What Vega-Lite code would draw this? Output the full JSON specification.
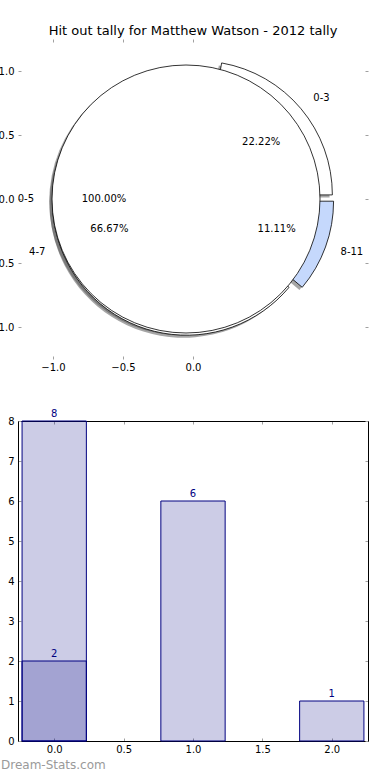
{
  "$schema": "https://vega.github.io/schema/vega-lite/v6.json",
  "bounds": "flush",
  "spacing": 62,
  "padding": {"left": -11, "top": 24, "right": 0, "bottom": 0},
  "background": "white",
  "config": {
    "font": "DejaVu Sans",
    "view": {"stroke": null},
    "axis": {
      "grid": false, "title": null, "labelFont": "DejaVu Sans", "labelFontSize": 10,
      "labelColor": "#000000", "tickColor": "#a0a0a0", "tickSize": -3, "tickWidth": 1,
      "domain": false, "domainColor": "#000000", "domainWidth": 1, "labelPadding": 7
    }
  },
  "datasets": {
    "pie1": [
      {"label": "0-5", "count": 9, "share": 1.0, "cx": -0.05, "cy": 0, "i": 1}
    ],
    "pie2": [
      {"label": "0-3", "count": 2, "share": 0.22222, "cx": 0.0383, "cy": 0.0321, "i": 1},
      {"label": "4-7", "count": 6, "share": 0.66667, "cx": -0.047, "cy": -0.0171, "i": 2},
      {"label": "8-11", "count": 1, "share": 0.11111, "cx": 0.047, "cy": -0.0171, "i": 3}
    ],
    "bars": [
      {"slot": 0, "hitouts": 8, "series": "a"},
      {"slot": 1, "hitouts": 6, "series": "a"},
      {"slot": 2, "hitouts": 1, "series": "a"},
      {"slot": 0, "hitouts": 2, "series": "b"}
    ]
  },
  "vconcat": [
    {
      "width": 350,
      "height": 320,
      "title": {"text": "Hit out tally for Matthew Watson - 2012 tally", "fontSize": 13, "fontWeight": "normal", "color": "#000000", "offset": 1},
      "layer": [
        {
          "encoding": {
            "x": {"field": "cx", "type": "quantitative", "scale": {"domain": [-1.25, 1.25], "nice": false, "zero": false},
                  "axis": {"orient": "bottom", "values": [-1, -0.5, 0], "format": ".1f", "labelPadding": 6}},
            "y": {"field": "cy", "type": "quantitative", "scale": {"domain": [-1.25, 1.25], "nice": false, "zero": false},
                  "axis": {"orient": "left", "values": [-1, -0.5, 0, 0.5, 1], "format": ".1f"}},
            "theta": {"field": "count", "type": "quantitative", "stack": true, "scale": {"range": [1.5707963267948966, -4.71238898038469]}},
            "order": {"field": "i", "type": "quantitative"},
            "detail": {"field": "label", "type": "nominal"}
          },
          "layer": [
            {"data": {"name": "pie2"}, "mark": {"type": "arc", "radius": 134, "fill": "#4d4d4d", "fillOpacity": 0.5, "xOffset": -2.8, "yOffset": 2.6}},
            {"data": {"name": "pie1"}, "mark": {"type": "arc", "radius": 134, "fill": "#4d4d4d", "fillOpacity": 0.5, "xOffset": -2.8, "yOffset": 2.6}},
            {"data": {"name": "pie2"}, "mark": {"type": "arc", "radius": 134, "stroke": "#000000", "strokeWidth": 0.8},
             "encoding": {"fill": {"field": "label", "type": "nominal", "scale": {"domain": ["0-3", "4-7", "8-11"], "range": ["#ffffff", "#ffffff", "#c5d8fc"]}, "legend": null}}},
            {"data": {"name": "pie1"}, "mark": {"type": "arc", "radius": 134, "fill": "#ffffff", "stroke": "#000000", "strokeWidth": 0.8}},
            {"data": {"name": "pie2"}, "mark": {"type": "text", "radius": 82, "fontSize": 10, "color": "#000000", "align": "center", "baseline": "middle"},
             "encoding": {"text": {"field": "share", "type": "quantitative", "format": ".2%"}}},
            {"data": {"name": "pie1"}, "mark": {"type": "text", "radius": 82, "fontSize": 10, "color": "#000000", "align": "center", "baseline": "middle"},
             "encoding": {"text": {"field": "share", "type": "quantitative", "format": ".2%"}}},
            {"data": {"name": "pie2"}, "mark": {"type": "text", "radius": 150, "fontSize": 10, "color": "#000000", "align": "left", "baseline": "middle"},
             "encoding": {"text": {"condition": {"test": "datum.label !== '4-7'", "field": "label", "type": "nominal"}, "value": ""}}},
            {"data": {"name": "pie2"}, "mark": {"type": "text", "radius": 150, "fontSize": 10, "color": "#000000", "align": "right", "baseline": "middle"},
             "encoding": {"text": {"condition": {"test": "datum.label === '4-7'", "field": "label", "type": "nominal"}, "value": ""}}},
            {"data": {"name": "pie1"}, "mark": {"type": "text", "radius": 152, "fontSize": 10, "color": "#000000", "align": "right", "baseline": "middle"},
             "encoding": {"text": {"field": "label", "type": "nominal"}}}
          ]
        },
        {
          "data": {"name": "pie1"},
          "mark": {"type": "point", "opacity": 0},
          "encoding": {
            "x": {"field": "cx", "type": "quantitative", "scale": {"domain": [-1.25, 1.25], "nice": false, "zero": false},
                  "axis": {"orient": "top", "values": [-1, -0.5, 0], "labels": false}},
            "y": {"field": "cy", "type": "quantitative", "scale": {"domain": [-1.25, 1.25], "nice": false, "zero": false},
                  "axis": {"orient": "right", "values": [-1, -0.5, 0, 0.5, 1], "labels": false}}
          }
        }
      ],
      "resolve": {"axis": {"x": "independent", "y": "independent"}}
    },
    {
      "width": 350,
      "height": 320,
      "data": {"name": "bars"},
      "title": {"text": "Dream-Stats.com", "orient": "bottom", "anchor": "start", "frame": "group", "dx": -17, "offset": 6, "fontSize": 12, "fontWeight": "normal", "color": "#9a9a9a"},
      "layer": [
        {
          "encoding": {
            "x": {"field": "slot", "type": "quantitative", "scale": {"domain": [-0.225, 2.225], "nice": false, "zero": false},
                  "axis": {"orient": "bottom", "values": [0, 0.5, 1, 1.5, 2], "format": ".1f", "domain": true, "labelPadding": 6}},
            "y": {"field": "hitouts", "type": "quantitative", "stack": null, "scale": {"domain": [0, 8], "nice": false},
                  "axis": {"orient": "left", "values": [0, 1, 2, 3, 4, 5, 6, 7, 8], "format": "d", "domain": true}}
          },
          "layer": [
            {"mark": {"type": "bar", "orient": "vertical", "width": 64.3, "fill": "#000080", "fillOpacity": 0.2, "stroke": "#000080", "strokeWidth": 1}},
            {"mark": {"type": "text", "baseline": "bottom", "dy": -2, "color": "#000080", "fontSize": 10},
             "encoding": {"text": {"field": "hitouts", "type": "quantitative"}}}
          ]
        },
        {
          "mark": {"type": "point", "opacity": 0},
          "encoding": {
            "x": {"field": "slot", "type": "quantitative", "scale": {"domain": [-0.225, 2.225], "nice": false, "zero": false},
                  "axis": {"orient": "top", "values": [0, 0.5, 1, 1.5, 2], "labels": false, "domain": true}},
            "y": {"field": "hitouts", "type": "quantitative", "stack": null, "scale": {"domain": [0, 8], "nice": false},
                  "axis": {"orient": "right", "values": [0, 1, 2, 3, 4, 5, 6, 7, 8], "labels": false, "domain": true}}
          }
        }
      ],
      "resolve": {"axis": {"x": "independent", "y": "independent"}}
    }
  ]
}
